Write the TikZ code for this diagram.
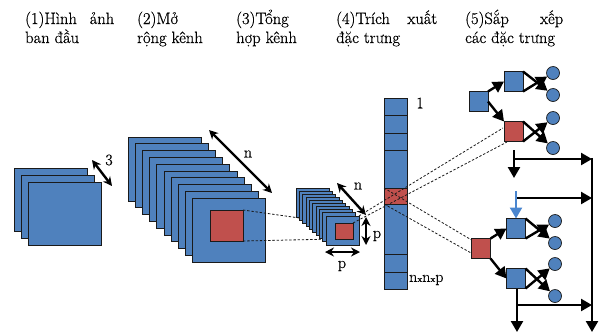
\documentclass[tikz,border=0pt]{standalone}
\usepackage{fontspec}
\setmainfont{Latin Modern Roman}
\newfontfamily\ttlfont{Latin Modern Roman}[FakeBold=0.6]
\usetikzlibrary{arrows.meta,calc}
\definecolor{cblue}{HTML}{4F81BD}
\definecolor{cred}{HTML}{C0504D}
\definecolor{cedge}{HTML}{1A1A1A}
\definecolor{carrowblue}{HTML}{4A86CF}
\begin{document}
\begin{tikzpicture}[x=1pt,y=-1pt,
  box/.style={draw=cedge, line width=0.7pt, fill=cblue, inner sep=0pt, outer sep=0pt, anchor=north west},
  redbox/.style={box, fill=cred},
  sbox/.style={draw=cedge, line width=0.7pt, fill=cblue, inner sep=0pt, outer sep=0pt, minimum width=19pt, minimum height=20pt},
  sred/.style={sbox, fill=cred},
  dim/.style={line width=2.4pt, {Stealth[length=9pt,width=9pt]}-{Stealth[length=9pt,width=9pt]}},
  guide/.style={dash pattern=on 2.4pt off 1.8pt, line width=0.8pt, draw=black!90},
  flow/.style={line width=2.4pt, -{Triangle[length=11pt,width=12pt]}},
  blueflow/.style={line width=2.4pt, draw=carrowblue, -{Triangle[length=11pt,width=12pt]}},
  leaf/.style={circle, draw=cedge, line width=0.7pt, fill=cblue, minimum size=13pt, inner sep=0pt},
  lbl/.style={font=\ttlfont\fontsize{16}{18}\selectfont, inner sep=0pt},
  ttl/.style={font=\ttlfont\fontsize{16.5}{19}\selectfont, inner sep=0pt, anchor=base west},
]
\useasboundingbox (0,0) rectangle (599,333);

% titles
\node[ttl] (t1a) at (25,24) {\makebox[89pt][s]{(1)Hình ảnh}};
\node[ttl] (t1b) at (25,43) {ban đầu};
\node[ttl] (t2a) at (137,24) {(2)Mở};
\node[ttl] (t2b) at (137,43) {rộng kênh};
\node[ttl] (t3a) at (236,24) {(3)Tổng};
\node[ttl] (t3b) at (236,43) {hợp kênh};
\node[ttl] (t4a) at (336,24) {\makebox[101pt][s]{(4)Trích xuất}};
\node[ttl] (t4b) at (336,43) {đặc trưng};
\node[ttl] (t5a) at (465,24) {\makebox[98pt][s]{(5)Sắp xếp}};
\node[ttl] (t5b) at (465,43) {các đặc trưng};

% stage 1
\node[box, minimum width=73pt, minimum height=63pt] (s1a) at (14,168) {};
\node[box, minimum width=73pt, minimum height=63pt] (s1b) at (21,175) {};
\node[box, minimum width=73pt, minimum height=63pt] (s1c) at (28,182) {};
\coordinate (d3a) at (92,160);
\coordinate (d3b) at (112,186);
\draw[dim] (d3a) -- (d3b);
\node[lbl] (l3) at (109,160) {3};

% stage 2
\foreach \i in {0,...,9}
  \node[box, minimum width=73pt, minimum height=64pt] (s2\i) at ({128+7.2*\i},{137+6.8*\i}) {};
\node[redbox, minimum width=33pt, minimum height=31pt] (r2) at (210,210) {};
\coordinate (dna) at (209,130);
\coordinate (dnb) at (272,193);
\draw[dim] (dna) -- (dnb);
\node[lbl] (ln2) at (248,154) {n};

% dashed to stage 3
\coordinate (r3nw) at (335,223);
\coordinate (r3sw) at (335,239);
\draw[guide] (r2.north east) -- (r3nw);
\draw[guide] (r2.south east) -- (r3sw);

% stage 3
\foreach \i in {0,...,9}
  \node[box, minimum width=33pt, minimum height=29pt] (s3\i) at ({296+3.33*\i},{188+3.1*\i}) {};
\node[redbox, minimum width=18pt, minimum height=16pt] (r3) at (r3nw) {};
\coordinate (n3a) at (337,183);
\coordinate (n3b) at (366,215);
\draw[dim] (n3a) -- (n3b);
\node[lbl] (ln3) at (358,186) {n};
\coordinate (p3a) at (366,217);
\coordinate (p3b) at (366,245);
\draw[dim] (p3a) -- (p3b);
\node[lbl] (lp3) at (377,236) {p};
\coordinate (q3a) at (325,252);
\coordinate (q3b) at (360,252);
\draw[dim] (q3a) -- (q3b);
\node[lbl] (lq3) at (342,266) {p};

% stage 4 column
\node[box, minimum width=23pt, minimum height=17pt] (c1) at (384,98) {};
\node[box, minimum width=23pt, minimum height=18pt] (c2) at (384,115) {};
\node[box, minimum width=23pt, minimum height=17pt] (c3) at (384,133) {};
\node[box, minimum width=23pt, minimum height=38pt] (c4) at (384,150) {};
\node[redbox, minimum width=23pt, minimum height=16pt] (c5) at (384,188) {};
\node[box, minimum width=23pt, minimum height=50pt] (c6) at (384,204) {};
\node[box, minimum width=23pt, minimum height=18pt] (c7) at (384,254) {};
\node[box, minimum width=23pt, minimum height=17pt] (c8) at (384,272) {};
\node[lbl] (l1) at (420,103) {1};
\node[lbl, anchor=west] (lnnp) at (409,280) {n{\fontsize{9}{9}\selectfont x}n{\fontsize{9}{9}\selectfont x}p};

% dashed to stage 5
\coordinate (ea) at (503,128);
\coordinate (eb) at (507,142);
\draw[guide] (s39.north east) -- (ea);
\draw[guide] (r3.north east) -- (eb);
\coordinate (fa) at (480,245);
\coordinate (fb) at (480,258);
\draw[guide] (c5.north west) -- (fa);
\draw[guide] (c5.south west) -- (fb);

% stage 5 upper group
\node[sbox] (L1) at (478.5,101.5) {};
\node[sbox] (T1) at (513.5,81.5) {};
\node[sred] (R1) at (513.5,131.5) {};
\node[leaf] (k1) at (553,73) {};
\node[leaf] (k2) at (553,95) {};
\node[leaf] (k3) at (553,118) {};
\node[leaf] (k4) at (553,148) {};
\draw[flow] (L1.north east) -- (T1.west);
\draw[flow] (L1.east) -- (R1.north west);
\draw[flow] (T1.south east) -- (k1);
\draw[flow] (T1.north east) -- (k2);
\draw[flow] (R1.south east) -- (k3);
\draw[flow] (R1.north east) -- (k4);

% stage 5 lower group
\node[sred] (R2) at (481,248.5) {};
\node[sbox] (T2) at (516,228.5) {};
\node[sbox] (B2) at (516,278.5) {};
\node[leaf] (k5) at (555,221) {};
\node[leaf] (k6) at (555,243) {};
\node[leaf] (k7) at (555,264) {};
\node[leaf] (k8) at (555,296) {};
\draw[flow] (R2.north east) -- (T2.west);
\draw[flow] (R2.south east) -- (B2.west);
\draw[flow] (T2.south east) -- (k5);
\draw[flow] (T2.north east) -- (k6);
\draw[flow] (B2.south east) -- (k7);
\draw[flow] (B2.north east) -- (k8);

% output flow lines
\coordinate (v1a) at (514,150);
\coordinate (v1b) at (514,178);
\draw[flow] (v1a) -- (v1b);
\coordinate (h1a) at (514,159);
\coordinate (h1b) at (592,159);
\draw[flow] (h1a) -- (h1b);
\coordinate (rva) at (592,157.8);
\coordinate (rvb) at (592,332);
\draw[flow] (rva) -- (rvb);
\coordinate (h2a) at (515,198);
\coordinate (h2b) at (592,198);
\draw[flow] (h2a) -- (h2b);
\coordinate (ba) at (516,191);
\draw[blueflow] (ba) -- (T2.north);
\coordinate (v3b) at (517,332);
\draw[flow] (B2.south -| v3b) -- (v3b);
\coordinate (h3a) at (517,305);
\coordinate (h3b) at (592,305);
\draw[flow] (h3a) -- (h3b);
\end{tikzpicture}
\end{document}
